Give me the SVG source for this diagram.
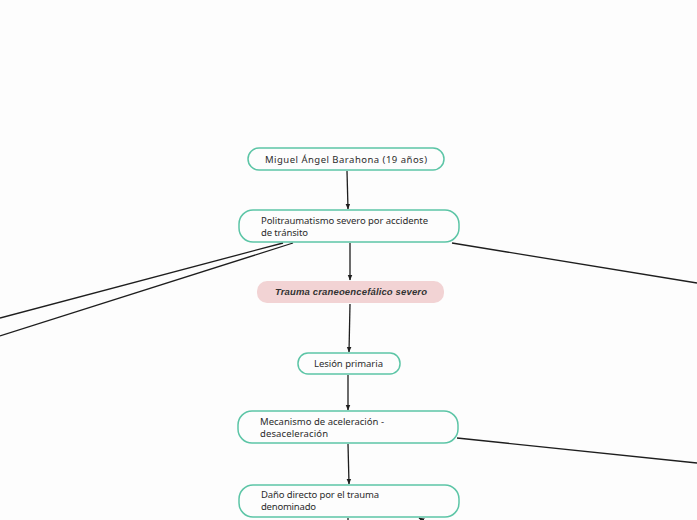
<svg xmlns="http://www.w3.org/2000/svg" width="697" height="520" viewBox="0 0 697 520">
<style>
.n{fill:#fdfdfd;stroke:#5cc5a6;stroke-width:1.5}
.p{fill:#f2d3d4;stroke:none}
.t{font-family:"Noto Sans","Liberation Sans",sans-serif;font-size:9.5px;fill:#2b2b2b}
.tb{font-family:"Liberation Sans",sans-serif;font-size:9.5px;font-weight:bold;font-style:italic;fill:#333}
.c{stroke:#1e1e1e;stroke-width:1.3;fill:none}
</style>
<defs>
<marker id="a" viewBox="0 0 10 10" refX="9" refY="5" markerWidth="6" markerHeight="6" orient="auto" markerUnits="userSpaceOnUse">
<path d="M0,1 L10,5 L0,9 Z" fill="#1e1e1e"/>
</marker>
</defs>
<rect width="697" height="520" fill="#fdfdfd"/>
<g id="connectors">
<line class="c" x1="347" y1="171" x2="348" y2="209" marker-end="url(#a)"/>
<line class="c" x1="350" y1="243" x2="350" y2="280" marker-end="url(#a)"/>
<line class="c" x1="350" y1="304" x2="349" y2="352" marker-end="url(#a)"/>
<line class="c" x1="348" y1="375" x2="348" y2="410" marker-end="url(#a)"/>
<line class="c" x1="348" y1="444" x2="349" y2="484" marker-end="url(#a)"/>
<line class="c" x1="348" y1="518" x2="348" y2="522"/>
<line class="c" x1="283" y1="243" x2="0" y2="318"/>
<line class="c" x1="293" y1="243" x2="0" y2="336"/>
<line class="c" x1="452" y1="243" x2="697" y2="283"/>
<line class="c" x1="457" y1="438" x2="697" y2="463"/>
<line class="c" x1="434" y1="526" x2="419" y2="518" marker-end="url(#a)"/>
</g>
<g id="n1">
<rect class="n" x="248" y="148" width="196" height="22" rx="11"/>
<text class="t" x="265" y="163" textLength="162" lengthAdjust="spacing">Miguel Ángel Barahona (19 años)</text>
</g>
<g id="n2">
<rect class="n" x="239" y="210" width="220" height="32" rx="14"/>
<text class="t" x="261" y="224" textLength="167" lengthAdjust="spacing">Politraumatismo severo por accidente</text>
<text class="t" x="261" y="236" textLength="47" lengthAdjust="spacing">de tránsito</text>
</g>
<g id="n3">
<rect class="p" x="257" y="281" width="187" height="22" rx="10"/>
<text class="tb" x="275" y="295" textLength="152" lengthAdjust="spacing">Trauma craneoencefálico severo</text>
</g>
<g id="n4">
<rect class="n" x="298" y="353" width="102" height="21" rx="10"/>
<text class="t" x="314" y="367" textLength="69" lengthAdjust="spacing">Lesión primaria</text>
</g>
<g id="n5">
<rect class="n" x="238" y="411" width="220" height="32" rx="14"/>
<text class="t" x="260" y="425" textLength="124" lengthAdjust="spacing">Mecanismo de aceleración -</text>
<text class="t" x="260" y="437" textLength="68" lengthAdjust="spacing">desaceleración</text>
</g>
<g id="n6">
<rect class="n" x="239" y="485" width="220" height="32" rx="14"/>
<text class="t" x="261" y="498" textLength="118" lengthAdjust="spacing">Daño directo por el trauma</text>
<text class="t" x="261" y="510" textLength="55" lengthAdjust="spacing">denominado</text>
</g>
</svg>
